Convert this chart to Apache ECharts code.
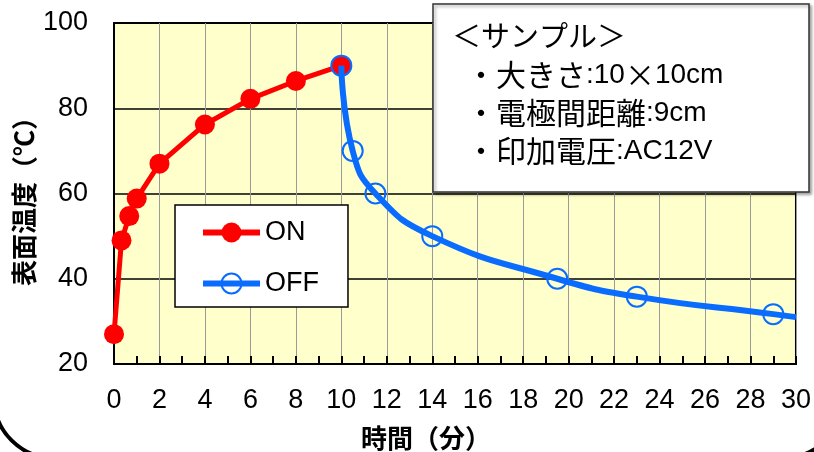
<!DOCTYPE html>
<html>
<head>
<meta charset="utf-8">
<script src="https://cdn.jsdelivr.net/npm/echarts@6/dist/echarts.min.js"></script>
<style>
  html, body { margin: 0; padding: 0; background: #fff; }
  #chart { width: 814px; height: 452px; }
</style>
</head>
<body>
<div id="chart"></div>
<script>
// Surface temperature while voltage is applied (ON) and after switching off (OFF)
const onMinutes  = [0, 0.33, 0.67, 1, 2, 4, 6, 8, 10];
const onTemps    = [27, 49, 54.7, 58.8, 67, 76.2, 82.2, 86.4, 90];
const offMinutes = [10, 10.5, 11.5, 14, 19.5, 23, 29, 30];
const offTemps   = [90, 70, 60, 50, 40, 35.8, 31.7, 31];
const offMarked  = [true, true, true, true, true, true, true, false];

const xTicks = { min: 0, max: 30, step: 2 };
const yTicks = { min: 20, max: 100, step: 20 };

const seriesNames = ['ON', 'OFF'];
const xTitle = '時間（分）';
const yTitle = '表面温度（℃）';
const sampleTitle = '＜サンプル＞';
// each line of the sample note: [text, 'j' = Japanese glyphs | 'l' = Latin glyphs]
const sampleLine1 = [['・大きさ', 'j'], [':10', 'l'], ['×', 'j'], ['10cm', 'l']];
const sampleLine2 = [['・電極間距離', 'j'], [':9cm', 'l']];
const sampleLine3 = [['・印加電圧', 'j'], [':AC12V', 'l']];

const LATIN = '"Liberation Sans", Arial, "Noto Sans CJK JP", sans-serif';
const CJK = '"Noto Sans CJK JP", sans-serif';

const onData = onMinutes.map((m, i) => [m, onTemps[i]]);
const offData = offMinutes.map((m, i) => ({
  value: [m, offTemps[i]],
  symbol: offMarked[i] ? 'circle' : 'none'
}));

function richLine(parts) {
  return parts.map(p => '{' + p[1] + '|' + p[0] + '}').join('');
}
const noteRich = {
  j: { fontSize: 30, fontFamily: CJK, fill: '#000' },
  l: { fontSize: 28, fontFamily: LATIN, fill: '#000' }
};

const chart = echarts.init(document.getElementById('chart'), null, { renderer: 'canvas' });

chart.setOption({
  animation: false,
  backgroundColor: '#ffffff',
  grid: {
    left: 114, right: 17, top: 23, bottom: 88,
    show: true,
    backgroundColor: '#FFFFCC',
    borderColor: '#000',
    borderWidth: 2
  },
  xAxis: {
    type: 'value',
    min: xTicks.min, max: xTicks.max, interval: xTicks.step,
    axisLine: { show: true, lineStyle: { color: '#000', width: 2 } },
    axisTick: { show: true, inside: true, length: 8, lineStyle: { color: '#000', width: 2 } },
    minorTick: { show: true, splitNumber: 2, length: 8, lineStyle: { color: '#000', width: 2 } },
    splitLine: { show: true, lineStyle: { color: '#9a9a9a', width: 1 } },
    axisLabel: { color: '#000', fontSize: 27, fontFamily: LATIN, margin: 23 }
  },
  yAxis: {
    type: 'value',
    min: yTicks.min, max: yTicks.max, interval: yTicks.step,
    axisLine: { show: true, lineStyle: { color: '#000', width: 2 } },
    axisTick: { show: false },
    splitLine: { show: true, lineStyle: { color: '#000', width: 1.5 } },
    axisLabel: { color: '#000', fontSize: 27, fontFamily: LATIN, margin: 26 }
  },
  legend: {
    orient: 'vertical',
    left: 175, top: 205,
    width: 170,
    padding: [14, 29, 10, 25],
    itemGap: 24,
    itemWidth: 57,
    itemHeight: 25,
    backgroundColor: '#fff',
    borderColor: '#000',
    borderWidth: 1.5,
    borderRadius: 0,
    lineStyle: { width: 6 },
    textStyle: { color: '#000', fontSize: 27, lineHeight: 27, fontFamily: LATIN, padding: [0, 0, 0, 0] },
    data: seriesNames
  },
  series: [
    {
      name: seriesNames[0],
      type: 'line',
      data: onData,
      symbol: 'circle',
      symbolSize: 20,
      itemStyle: { color: '#ff0000' },
      lineStyle: { color: '#ff0000', width: 5 },
      z: 3
    },
    {
      name: seriesNames[1],
      type: 'line',
      data: offData,
      smooth: 0.5,
      symbol: 'circle',
      symbolSize: 20,
      itemStyle: { color: 'rgba(0,0,0,0)', borderColor: '#0a6cff', borderWidth: 2 },
      lineStyle: { color: '#0a6cff', width: 6 },
      z: 4
    }
  ],
  graphic: [
    // outer rounded frame, only its lower corners fall inside the page
    {
      type: 'rect', z: 0, silent: true,
      shape: { x: -6, y: -240, width: 849, height: 698, r: 60 },
      style: { fill: 'none', stroke: '#000', lineWidth: 4 }
    },
    // sample description box
    {
      type: 'rect', z: 50,
      shape: { x: 433, y: 4, width: 376, height: 188 },
      style: {
        fill: '#fff', stroke: '#333', lineWidth: 1.5,
        shadowBlur: 3, shadowOffsetX: 2, shadowOffsetY: 2, shadowColor: 'rgba(0,0,0,0.35)'
      }
    },
    {
      type: 'text', z: 51, x: 452, y: 36,
      style: { text: sampleTitle, font: '29px ' + CJK, fill: '#000', textVerticalAlign: 'middle' }
    },
    {
      type: 'text', z: 51, x: 466, y: 75,
      style: { text: richLine(sampleLine1), textVerticalAlign: 'middle', rich: noteRich }
    },
    {
      type: 'text', z: 51, x: 466, y: 113,
      style: { text: richLine(sampleLine2), textVerticalAlign: 'middle', rich: noteRich }
    },
    {
      type: 'text', z: 51, x: 466, y: 151,
      style: { text: richLine(sampleLine3), textVerticalAlign: 'middle', rich: noteRich }
    },
    // axis titles
    {
      type: 'text', z: 51, x: 426, y: 438,
      style: { text: xTitle, font: 'bold 26px ' + CJK, fill: '#000', textAlign: 'center', textVerticalAlign: 'middle' }
    },
    {
      type: 'text', z: 51, x: 24, y: 195, rotation: Math.PI / 2,
      style: { text: yTitle, font: 'bold 26px ' + CJK, fill: '#000', textAlign: 'center', textVerticalAlign: 'middle' }
    }
  ]
});
</script>
</body>
</html>
